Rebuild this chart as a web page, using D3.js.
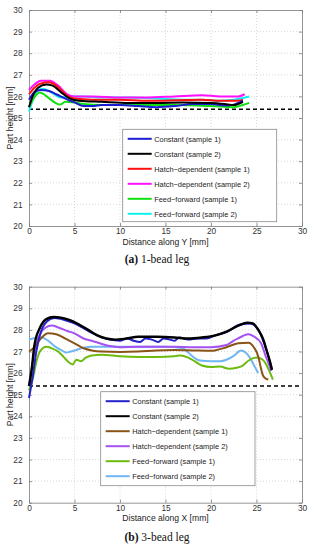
<!DOCTYPE html>
<html>
<head>
<meta charset="UTF-8">
<style>
  body { margin: 0; background: #fff; }
  svg { display: block; }
  .tick text { font-family: "Liberation Sans", Arial, sans-serif; }
</style>
</head>
<body>
<div id="chart"></div>
<script src="https://d3js.org/d3.v7.min.js"></script>
<script>

// ---- data ([distance mm, height mm]) ----
const xTicks = [0, 5, 10, 15, 20, 25, 30];
const yTicks = [20, 21, 22, 23, 24, 25, 26, 27, 28, 29, 30];
const nominalHeight = 25.4;

const legendLabels = ["Constant (sample 1)", "Constant (sample 2)",
  "Hatch\u2212dependent (sample 1)", "Hatch\u2212dependent (sample 2)",
  "Feed\u2212forward (sample 1)", "Feed\u2212forward (sample 2)"];

// panel (a): 1-bead leg
const constant1A = [[0,25.85],[0.6,26.2],[1.3,26.3],[2.2,26.25],[3,26.1],[4,25.9],[5,25.72],[6,25.55],[7,25.55],[8,25.6],[10,25.6],[12,25.55],[14,25.5],[16,25.55],[18,25.65],[20,25.65],[21.5,25.58],[22.5,25.62],[23.5,25.8]];
const constant2A = [[0,25.5],[0.4,26.0],[1,26.4],[1.9,26.55],[2.6,26.5],[3.5,26.2],[4.5,25.9],[5.5,25.8],[8,25.75],[11,25.7],[14,25.7],[17,25.72],[20,25.7],[21.5,25.65],[22.5,25.6],[23.5,25.75]];
const hatch1A    = [[0,26.1],[0.6,26.4],[1.3,26.6],[2.2,26.65],[3,26.5],[4,26.1],[5,25.9],[7,25.85],[10,25.85],[13,25.8],[16,25.82],[19,25.85],[21,25.8],[23,25.8],[23.5,25.85]];
const hatch2A    = [[0,26.3],[0.6,26.55],[1.3,26.73],[2.3,26.73],[3.2,26.5],[4.2,26.1],[5,26.0],[7,26.0],[10,25.95],[13,25.95],[16,26.0],[19,26.05],[21,26.0],[23,26.0],[23.7,26.1]];
const feed1A     = [[0,25.5],[0.5,25.9],[1.2,26.18],[1.8,26.05],[2.4,25.85],[3,25.68],[3.4,25.62],[4,25.75],[5,25.72],[6,25.65],[8,25.6],[12,25.6],[16,25.6],[20,25.55],[22.5,25.5],[23.5,25.6],[24.2,25.7]];
const feed2A     = [[0,25.3],[0.4,25.8],[0.9,26.25],[1.5,26.35],[2.4,26.2],[3.5,25.95],[4.5,26.0],[6,26.0],[8,25.95],[11,25.95],[14,25.9],[17,25.85],[19,25.85],[21,25.8],[22.5,25.85],[24.2,26.0]];

// panel (b): 3-bead leg
const constant1B = [[0,24.85],[0.4,25.8],[0.8,27.0],[1.3,27.9],[2,28.4],[2.8,28.55],[4,28.45],[5,28.3],[6.3,28.0],[7.5,27.75],[8.9,27.55],[10,27.5],[10.8,27.6],[11.5,27.5],[12.2,27.44],[12.8,27.6],[13.5,27.55],[14.2,27.44],[14.8,27.6],[15.5,27.55],[16,27.5],[16.5,27.65],[17.5,27.55],[18.5,27.6],[19.5,27.6],[20.5,27.75],[21.7,27.9],[23.2,28.25],[24.3,28.3],[25.2,28.0],[26.1,27.07],[26.7,26.15]];
const constant2B = [[0,25.4],[0.3,26.2],[0.6,27.3],[1.2,28.1],[1.9,28.5],[2.7,28.6],[3.5,28.57],[4.5,28.45],[5.5,28.25],[6.5,28.0],[7.5,27.75],[8.5,27.6],[9.5,27.55],[10.7,27.6],[12,27.68],[14,27.68],[16,27.65],[17.5,27.6],[19,27.65],[20.5,27.75],[21.7,27.92],[23,28.2],[24,28.33],[24.6,28.3],[25.2,28.0],[25.7,27.6],[26.1,27.07],[26.5,26.5],[26.7,26.15]];
const hatch1B    = [[0,27.0],[0.6,27.2],[1.3,27.6],[2.1,27.84],[3,27.8],[4,27.6],[5,27.38],[6,27.15],[6.9,27.05],[8,27.0],[10,26.98],[12,27.0],[14,27.05],[16,27.07],[18,27.05],[20,27.03],[21.7,27.2],[23,27.38],[24.1,27.4],[24.7,27.2],[25.2,26.76],[25.5,26.2],[25.7,25.9],[26,25.75],[26.3,25.7]];
const hatch2B    = [[0,25.4],[0.3,26.2],[0.6,27.0],[1.2,27.8],[1.8,28.1],[2.5,28.2],[3.3,28.1],[4.2,27.95],[5,27.84],[6,27.6],[6.9,27.5],[8,27.35],[8.9,27.25],[10,27.2],[12,27.22],[14,27.22],[16,27.22],[18,27.2],[20,27.2],[21.7,27.3],[22.5,27.5],[23.5,27.72],[24.1,27.8],[24.7,27.7],[25.5,27.38],[26,26.8],[26.45,26.3],[26.6,26.1]];
const feed1B     = [[0,25.2],[0.45,25.8],[0.8,26.5],[1.2,27.0],[1.9,27.22],[2.5,27.15],[3.2,27.0],[3.8,26.75],[4.3,26.53],[4.8,26.4],[5.2,26.62],[5.7,26.55],[6.2,26.7],[6.9,26.82],[8,26.85],[10,26.78],[12,26.75],[14,26.75],[16,26.78],[16.6,26.82],[17.5,26.72],[18.2,26.55],[19,26.35],[20,26.28],[21,26.3],[22,26.2],[22.8,26.25],[23.5,26.35],[24.1,26.57],[25,26.72],[25.6,26.65],[26,26.45],[26.4,26.1],[26.8,25.7]];
const feed2B     = [[0,27.56],[0.7,27.62],[1.4,27.65],[2.1,27.5],[2.8,27.25],[3.6,27.05],[4.1,26.95],[4.6,27.0],[5.2,27.07],[6,27.18],[7,27.22],[9,27.22],[12,27.22],[15,27.22],[16.9,27.15],[17.5,26.95],[18.2,26.7],[18.8,26.58],[20,26.55],[21,26.55],[21.7,26.62],[22.5,26.8],[23.3,27.05],[23.8,26.95],[24.3,26.7],[24.8,26.3],[25.2,26.0]];

const colorsA = ["#1c1cd2", "#000000", "#ff1010", "#ff10ff", "#10e010", "#10f0f0"];
const colorsB = ["#2222c8", "#000000", "#8a5418", "#a452f2", "#6cbc10", "#70b6f2"];

const W = 316, H = 550;
const svg = d3.select("#chart").append("svg")
    .attr("width", W).attr("height", H);

const font = "'Liberation Sans', Arial, sans-serif";

function drawPanel(opt) {
  const x = d3.scaleLinear().domain([0, 30]).range([29, 302]);
  const y = d3.scaleLinear().domain([20, 30]).range([opt.bottom, opt.top]);
  const g = svg.append("g");

  // dotted grid
  g.append("g").selectAll("line").data(xTicks.slice(1, -1)).join("line")
    .attr("x1", d => x(d)).attr("x2", d => x(d))
    .attr("y1", y(20)).attr("y2", y(30))
    .attr("stroke", "#c8c8c8").attr("stroke-width", 0.7)
    .attr("stroke-dasharray", "1,2");
  g.append("g").selectAll("line").data(yTicks.slice(1, -1)).join("line")
    .attr("y1", d => y(d)).attr("y2", d => y(d))
    .attr("x1", x(0)).attr("x2", x(30))
    .attr("stroke", "#c8c8c8").attr("stroke-width", 0.7)
    .attr("stroke-dasharray", "1,2");

  // axes, matlab style: ticks inside on every side
  const axB = g.append("g").attr("transform", `translate(0,${y(20)})`)
    .call(d3.axisBottom(x).tickValues(xTicks).tickSizeInner(-3).tickSizeOuter(0).tickPadding(2.5));
  const axT = g.append("g").attr("transform", `translate(0,${y(30)})`)
    .call(d3.axisTop(x).tickValues(xTicks).tickSizeInner(-3).tickSizeOuter(0).tickFormat(""));
  const axL = g.append("g").attr("transform", `translate(${x(0)},0)`)
    .call(d3.axisLeft(y).tickValues(yTicks).tickSizeInner(-3).tickSizeOuter(0).tickPadding(6.5));
  const axR = g.append("g").attr("transform", `translate(${x(30)},0)`)
    .call(d3.axisRight(y).tickValues(yTicks).tickSizeInner(-3).tickSizeOuter(0).tickFormat(""));
  [axB, axT, axL, axR].forEach(a => {
    a.select(".domain").attr("stroke", "#7a7a7a").attr("stroke-width", 0.8);
    a.selectAll(".tick line").attr("stroke", "#7a7a7a").attr("stroke-width", 0.8);
    a.selectAll(".tick text").attr("fill", "#333").attr("font-size", 8.3)
      .attr("font-family", font);
  });

  // nominal height dashed line
  g.append("line")
    .attr("x1", x(0)).attr("x2", x(30))
    .attr("y1", y(nominalHeight)).attr("y2", y(nominalHeight))
    .attr("stroke", "#000").attr("stroke-width", 1.5)
    .attr("stroke-dasharray", "4,3");

  // measured profiles
  const line = d3.line().x(d => x(d[0])).y(d => y(d[1])).curve(d3.curveMonotoneX);
  const order = [5, 4, 3, 2, 0, 1];
  order.forEach(i => {
    g.append("path").datum(opt.series[i])
      .attr("d", line)
      .attr("fill", "none")
      .attr("stroke", opt.colors[i])
      .attr("stroke-width", i === 1 && opt.thickBlack ? 2.4 : 2)
      .attr("stroke-linejoin", "round");
  });

  // legend
  const lg = g.append("g");
  lg.append("rect")
    .attr("x", opt.legend.x).attr("y", opt.legend.y)
    .attr("width", opt.legend.w).attr("height", opt.legend.h)
    .attr("fill", "#fff").attr("stroke", "#8a8a8a").attr("stroke-width", 0.8);
  legendLabels.forEach((lab, i) => {
    const ly = opt.legend.y + 9.5 + i * 15;
    lg.append("line")
      .attr("x1", opt.legend.x + 5).attr("x2", opt.legend.x + 29)
      .attr("y1", ly).attr("y2", ly)
      .attr("stroke", opt.colors[i]).attr("stroke-width", 2);
    lg.append("text")
      .attr("x", opt.legend.x + 31.5).attr("y", ly + 2.7)
      .attr("font-family", font).attr("font-size", 7.4).attr("fill", "#222")
      .text(lab);
  });

  // axis titles
  g.append("text")
    .attr("x", 165.5).attr("y", y(20) + 18.5)
    .attr("text-anchor", "middle")
    .attr("font-family", font).attr("font-size", 8.6).attr("fill", "#222")
    .text(opt.xTitle);
  g.append("text")
    .attr("transform", `translate(13,${(y(20) + y(30)) / 2}) rotate(-90)`)
    .attr("text-anchor", "middle")
    .attr("font-family", font).attr("font-size", 8.6).attr("fill", "#222")
    .text("Part height [mm]");

  // caption
  const cap = g.append("text")
    .attr("x", 157).attr("y", opt.captionY)
    .attr("text-anchor", "middle")
    .attr("font-family", "'Liberation Serif', 'DejaVu Serif', serif")
    .attr("font-size", 11.5).attr("fill", "#111");
  cap.append("tspan").attr("font-weight", "bold").text(opt.tag);
  cap.append("tspan").text(" " + opt.caption);
}

drawPanel({
  top: 10, bottom: 226,
  series: [constant1A, constant2A, hatch1A, hatch2A, feed1A, feed2A],
  colors: colorsA,
  legend: { x: 122.7, y: 129.3, w: 154, h: 92.4 },
  xTitle: "Distance along Y [mm]",
  tag: "(a)", caption: "1-bead leg", captionY: 263
});

drawPanel({
  top: 286.7, bottom: 502.7,
  series: [constant1B, constant2B, hatch1B, hatch2B, feed1B, feed2B],
  colors: colorsB,
  thickBlack: true,
  legend: { x: 100.7, y: 391.7, w: 154.3, h: 94 },
  xTitle: "Distance along X [mm]",
  tag: "(b)", caption: "3-bead leg", captionY: 540.5
});

</script>
</body>
</html>
